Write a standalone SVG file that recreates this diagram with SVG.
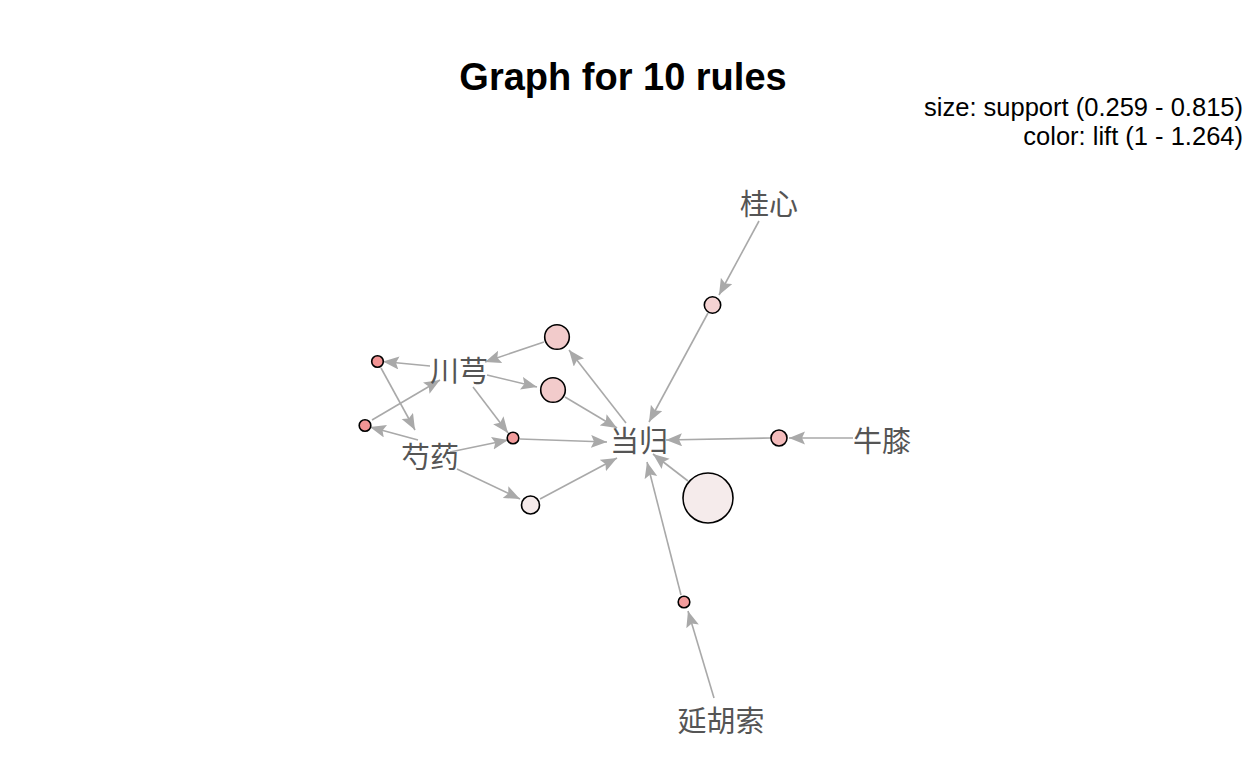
<svg xmlns="http://www.w3.org/2000/svg" width="1248" height="768" viewBox="0 0 1248 768">
<defs>
<marker id="arr" markerUnits="userSpaceOnUse" markerWidth="18" markerHeight="14" refX="16" refY="6.5" orient="auto">
<path d="M0,0 L16,6.5 L0,13 L3,6.5 z" fill="#a9a9a9"/>
</marker>
<style>
.e{stroke:#a9a9a9;stroke-width:1.6;fill:none;marker-end:url(#arr)}
.r{stroke:#000;stroke-width:1.6}
.lbl{font-family:"Noto Sans CJK SC",sans-serif;font-size:29px;fill:#555;text-anchor:middle}
.ttl{font-family:"Liberation Sans",Arial,sans-serif;font-weight:bold;font-size:38px;fill:#000;text-anchor:middle}
.leg{font-family:"Liberation Sans",Arial,sans-serif;font-size:25.5px;fill:#000;text-anchor:end}
</style>
</defs>
<rect width="1248" height="768" fill="#fff"/>
<text class="ttl" x="623" y="90">Graph for 10 rules</text>
<text class="leg" x="1243" y="116">size: support (0.259 - 0.815)</text>
<text class="leg" x="1243" y="145">color: lift (1 - 1.264)</text>
<g id="edges">
<line class="e" x1="759" y1="221" x2="719" y2="295"/>
<line class="e" x1="708" y1="313" x2="649" y2="422"/>
<line class="e" x1="853" y1="438" x2="789" y2="438"/>
<line class="e" x1="771" y1="438" x2="666" y2="440"/>
<line class="e" x1="688" y1="481" x2="653" y2="454"/>
<line class="e" x1="714" y1="698" x2="688" y2="611"/>
<line class="e" x1="681" y1="595" x2="647" y2="462"/>
<line class="e" x1="626" y1="423" x2="569" y2="350"/>
<line class="e" x1="544" y1="342" x2="485" y2="362"/>
<line class="e" x1="487" y1="375" x2="537" y2="387"/>
<line class="e" x1="565" y1="397" x2="617" y2="428"/>
<line class="e" x1="473" y1="387" x2="508" y2="433"/>
<line class="e" x1="450" y1="452" x2="508" y2="440"/>
<line class="e" x1="520" y1="439" x2="607" y2="442"/>
<line class="e" x1="457" y1="469" x2="520" y2="499"/>
<line class="e" x1="540" y1="499" x2="617" y2="458"/>
<line class="e" x1="430" y1="366" x2="383" y2="361.5"/>
<line class="e" x1="381" y1="368" x2="415" y2="430"/>
<line class="e" x1="372" y1="420" x2="440" y2="380"/>
<line class="e" x1="418" y1="440" x2="370" y2="427"/>
</g>
<g id="rule1"><circle class="r" cx="557" cy="337" r="12.3" fill="#f2cbcb"/></g>
<g id="rule2"><circle class="r" cx="553" cy="390" r="12.3" fill="#f2cbcb"/></g>
<g id="rule3"><circle class="r" cx="513" cy="438" r="5.8" fill="#f29c9c"/></g>
<g id="rule4"><circle class="r" cx="530.5" cy="505" r="9" fill="#f5eaea"/></g>
<g id="rule5"><circle class="r" cx="377.5" cy="361.5" r="5.8" fill="#f29494"/></g>
<g id="rule6"><circle class="r" cx="365" cy="425.5" r="5.8" fill="#f29494"/></g>
<g id="rule7"><circle class="r" cx="712.5" cy="305" r="8.2" fill="#f5d3d3"/></g>
<g id="rule8"><circle class="r" cx="779" cy="438" r="8" fill="#f4bcbc"/></g>
<g id="rule9"><circle class="r" cx="708" cy="498" r="25" fill="#f5ebeb"/></g>
<g id="rule10"><circle class="r" cx="684" cy="602" r="5.8" fill="#f29c9c"/></g>
<g id="n-chuanxiong"><text class="lbl" x="459" y="382">川芎</text></g>
<g id="n-shaoyao"><text class="lbl" x="430" y="468">芍药</text></g>
<g id="n-danggui"><text class="lbl" x="639" y="452">当归</text></g>
<g id="n-guixin"><text class="lbl" x="769" y="215">桂心</text></g>
<g id="n-niuxi"><text class="lbl" x="882" y="452">牛膝</text></g>
<g id="n-yanhusuo"><text class="lbl" x="721" y="732">延胡索</text></g>
</svg>
